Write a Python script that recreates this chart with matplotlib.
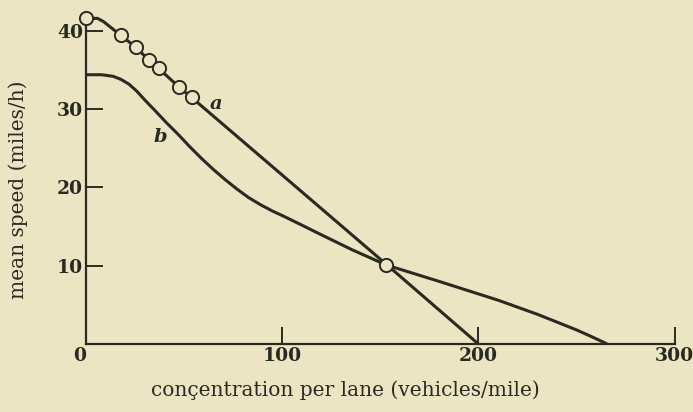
import matplotlib
matplotlib.use("Agg")
import matplotlib.pyplot as plt

a_x = [0, 6, 9, 12, 15, 18.2, 25.4, 32.2, 37.2, 47.6, 53.9, 100, 153, 200]
a_y = [41.6, 41.6, 41.2, 40.6, 40.0, 39.4, 37.9, 36.3, 35.2, 32.8, 31.5, 21.6, 10.2, 0]
obs_x = [0, 18.2, 25.4, 32.2, 37.2, 47.6, 53.9]
obs_y = [41.6, 39.5, 38.0, 36.3, 35.3, 32.8, 31.6]

# curve b
b_x = [0, 8, 14, 18, 22, 26, 30, 35, 41, 47, 53, 59, 65, 71, 77, 83, 89, 95, 101,
       110, 118, 127, 136, 145, 153, 162, 171, 180, 190, 200, 210, 220, 230, 240,
       250, 258, 265.6]
b_y = [34.4, 34.4, 34.2, 33.8, 33.2, 32.3, 31.2, 29.9, 28.3, 26.8, 25.2, 23.7, 22.3,
       21.0, 19.8, 18.7, 17.8, 17.0, 16.3, 15.2, 14.2, 13.1, 12.0, 11.0, 10.1, 9.4,
       8.7, 8.0, 7.2, 6.4, 5.6, 4.7, 3.8, 2.8, 1.8, 0.9, 0]

# the crossing point of a and b
cross_x = [153]
cross_y = [10.1]

paper = '#ebe5c3'
ink = '#2b2a22'

plt.rcParams['font.family'] = 'DejaVu Serif'

fig = plt.figure(figsize=(6.93, 4.12), dpi=100, facecolor=paper)
ax = fig.add_axes([0.1237, 0.165, 0.85, 0.798])
ax.set_facecolor(paper)

ax.plot(a_x, a_y, color=ink, lw=2.2, solid_capstyle='butt')
ax.plot(b_x, b_y, color=ink, lw=2.2, solid_capstyle='butt')
ax.plot(obs_x, obs_y, 'o', ms=9.5, mfc=paper, mec=ink, mew=1.4, clip_on=False, zorder=5)
ax.plot(cross_x, cross_y, 'o', ms=9.5, mfc=paper, mec=ink, mew=1.4, zorder=5)

ax.text(66.6, 30.7, 'a', fontsize=14, fontstyle='italic', fontweight='bold',
        color=ink, ha='center', va='center')
ax.text(37.8, 26.5, 'b', fontsize=14, fontstyle='italic', fontweight='bold',
        color=ink, ha='center', va='center')

ax.set_xlim(0, 300)
ax.set_ylim(0, 42)
ax.spines['top'].set_visible(False)
ax.spines['right'].set_visible(False)
for s in ('left', 'bottom'):
    ax.spines[s].set_color(ink)
    ax.spines[s].set_linewidth(1.6)

ax.set_xticks([0, 100, 200, 300])
ax.set_xticklabels(['0', '100', '200', '300'])
ax.set_yticks([10, 20, 30, 40])
ax.set_yticklabels(['10', '20', '30', '40'])
ax.tick_params(direction='in', length=12, width=1.4, color=ink, labelcolor=ink,
               labelsize=13.5)
ax.tick_params(axis='x', pad=2)
ax.tick_params(axis='y', pad=2)
for lab in ax.get_xticklabels() + ax.get_yticklabels():
    lab.set_fontweight('bold')
ax.get_xticklabels()[0].set_horizontalalignment('right')

ax.set_xlabel('conçentration per lane (vehicles/mile)', fontsize=14.5, color=ink)
ax.xaxis.set_label_coords(0.44, -0.14)
ax.xaxis.label.set_verticalalignment('center')
ax.set_ylabel('mean speed (miles/h)', fontsize=14.5, color=ink)
ax.yaxis.set_label_coords(-0.115, 0.47)
ax.yaxis.label.set_verticalalignment('center')

fig.savefig('out.png', dpi=100, facecolor=paper)
